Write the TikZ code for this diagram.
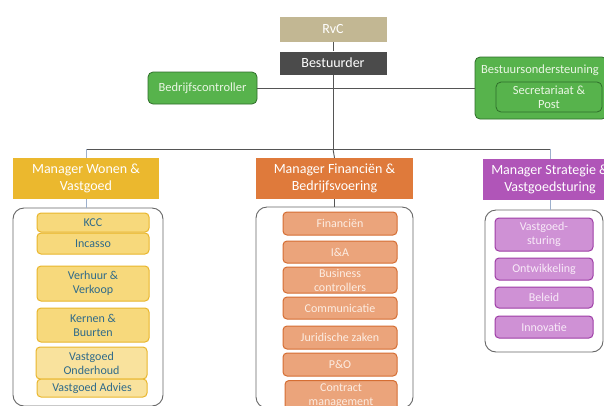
\documentclass[tikz,border=0pt]{standalone}
\usepackage{fontspec}
\setmainfont{Carlito}
\definecolor{tan}{HTML}{C2B793}
\definecolor{darkbox}{HTML}{4B4B4B}
\definecolor{grn}{HTML}{57B34C}
\definecolor{grnline}{HTML}{2F6E2A}
\definecolor{grntext}{HTML}{EAF6E4}
\definecolor{ymgr}{HTML}{EBB82E}
\definecolor{yfill}{HTML}{F7D97C}
\definecolor{yline}{HTML}{E9B62C}
\definecolor{ytext}{HTML}{2F6A8A}
\definecolor{omgr}{HTML}{DF7A3B}
\definecolor{ofill}{HTML}{EBA47B}
\definecolor{oline}{HTML}{D56E33}
\definecolor{otext}{HTML}{FCEDE3}
\definecolor{pmgr}{HTML}{B055B8}
\definecolor{pfill}{HTML}{CF91D5}
\definecolor{pline}{HTML}{9E3EA6}
\definecolor{ptext}{HTML}{F8EAF8}
\definecolor{conn}{HTML}{555555}
\definecolor{connb}{HTML}{9DB0CC}
\begin{document}
\begin{tikzpicture}[x=1pt,y=-1pt,
  box/.style={rectangle,inner sep=0pt,align=center,font=\fontsize{13}{15}\selectfont},
  topbox/.style={box,draw=white,line width=0.8pt,text=white,font=\fontsize{14}{16}\selectfont},
  gbox/.style={box,rounded corners=5pt,fill=grn,draw=grnline,line width=0.8pt,text=grntext,font=\fontsize{12.5}{14}\selectfont},
  mgr/.style={box,text=white,font=\fontsize{14}{17}\selectfont},
  cont/.style={box,rounded corners=11pt,draw=gray!80!black,line width=0.9pt,fill=white},
  item/.style={box,rounded corners=4pt,line width=1pt,font=\fontsize{12}{14}\selectfont},
  yitem/.style={item,fill=yfill,draw=yline,text=ytext},
  oitem/.style={item,fill=ofill,draw=oline,text=otext},
  pitem/.style={item,fill=pfill,draw=pline,text=ptext},
  cline/.style={draw=conn,line width=0.9pt},
  bline/.style={draw=connb,line width=0.9pt}]
\useasboundingbox (0,0) rectangle (604,405);
\clip (0,0) rectangle (604,405);
\fill[white] (0,0) rectangle (604,405);

% top
\node[topbox,fill=tan,minimum width=108pt,minimum height=26pt] (rvc) at (333,29) {RvC};
\node[topbox,fill=darkbox,minimum width=108pt,minimum height=24pt] (best) at (333,63) {Bestuurder};
\node[gbox,minimum width=109pt,minimum height=32pt] (bc) at (202.5,88) {Bedrijfscontroller};
\node[gbox,minimum width=132pt,minimum height=62pt] (bo) at (541,88) {};
\node[box,text=grntext,font=\fontsize{12.5}{14}\selectfont] (bot) at (540,70) {Bestuursondersteuning};
\node[gbox,minimum width=106pt,minimum height=30pt] (sp) at (549,97) {Secretariaat \&\\Post};

\coordinate (hub) at (333,149);
\draw[cline] (rvc) -- (best);
\draw[cline] (best) -- (hub);
\draw[cline] (bc) -- (bo);

% managers
\node[mgr,fill=ymgr,minimum width=146pt,minimum height=41pt] (mw) at (86,178.5) {Manager Wonen \&\\Vastgoed};
\node[mgr,fill=omgr,minimum width=157pt,minimum height=41pt] (mf) at (334.5,178.5) {Manager Financiën \&\\Bedrijfsvoering};
\node[mgr,fill=pmgr,minimum width=134pt,minimum height=41pt] (ms) at (550,179.5) {Manager Strategie \&\\Vastgoedsturing};

\draw[cline] (hub -| mw.north) -- (hub -| ms.north);
\draw[bline] (hub -| mw.north) -- (mw.north);
\draw[cline] (hub) -- (mf.north);
\draw[bline] (hub -| ms.north) -- (ms.north);

% containers
\node[cont,minimum width=150pt,minimum height=198pt] (cw) at (88,307) {};
\node[cont,minimum width=157pt,minimum height=201pt] (cf) at (334.5,307.5) {};
\node[cont,minimum width=118pt,minimum height=142pt] (cs) at (544,281) {};

\draw[bline] (mw.south) -- (mw.south |- cw.north);
\draw[cline] (mf.south) -- (mf.south |- cf.north);
\draw[bline] (ms.south) -- (ms.south |- cs.north);

% Wonen items
\node[yitem,minimum width=112pt,minimum height=19pt] (kcc) at (93,222.5) {KCC};
\node[yitem,minimum width=112pt,minimum height=21pt] (inc) at (93,243.5) {Incasso};
\node[yitem,minimum width=112pt,minimum height=35pt] (vv) at (93,283.5) {Verhuur \&\\Verkoop};
\node[yitem,minimum width=112pt,minimum height=34pt] (kb) at (93,325) {Kernen \&\\Buurten};
\node[yitem,fill=yfill!75!white,minimum width=111pt,minimum height=32pt] (vo) at (91.5,363) {Vastgoed\\Onderhoud};
\node[yitem,fill=yfill!75!white,minimum width=110pt,minimum height=18pt] (va) at (92,388) {Vastgoed Advies};

% Financien items
\node[oitem,minimum width=114pt,minimum height=23pt] (fin) at (340,223.5) {Financiën};
\node[oitem,minimum width=114pt,minimum height=22pt] (ia) at (340,252) {I\&A};
\node[oitem,minimum width=114pt,minimum height=26pt] (bus) at (340,280) {Business\\controllers};
\node[oitem,minimum width=114pt,minimum height=22pt] (com) at (340,308) {Communicatie};
\node[oitem,minimum width=114pt,minimum height=23pt] (jur) at (340,337.5) {Juridische zaken};
\node[oitem,minimum width=114pt,minimum height=23pt] (po) at (340,364.5) {P\&O};
\node[oitem,minimum width=112pt,minimum height=30pt,anchor=north] (cm) at (341,380) {Contract\\management};

% Strategie items
\node[pitem,minimum width=98pt,minimum height=33pt] (vs) at (544,234.5) {Vastgoed-\\sturing};
\node[pitem,minimum width=98pt,minimum height=22pt] (ont) at (544,269) {Ontwikkeling};
\node[pitem,minimum width=98pt,minimum height=21pt] (bel) at (544,297.5) {Beleid};
\node[pitem,minimum width=98pt,minimum height=22pt] (inn) at (544,327) {Innovatie};
\end{tikzpicture}
\end{document}
